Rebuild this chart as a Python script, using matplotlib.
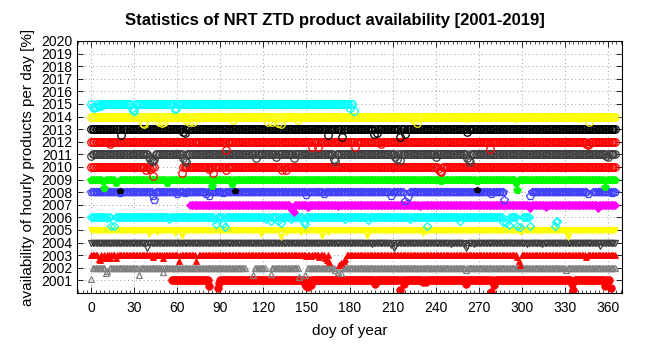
import numpy as np
import matplotlib
matplotlib.use("Agg")
import matplotlib.pyplot as plt
from matplotlib.ticker import MultipleLocator

plt.rcParams['font.family'] = ['Liberation Sans', 'DejaVu Sans']

# ---- data: coverage segments (doy ranges at full availability)
# ---- and individual dips (doy, plotted value)
seg_2015 = [(0, 183)]
dips_2015 = [(1, 2014.8), (2, 2014.7), (3, 2014.75), (5, 2014.85), (7, 2014.85), (28, 2014.7),
             (29, 2014.5), (30, 2014.45), (58, 2014.6), (59, 2014.7), (180, 2014.7), (183, 2014.45)]

seg_2014 = [(0, 365)]
dips_2014 = [(36, 2013.5), (37, 2013.45), (47, 2013.6), (49, 2013.5), (51, 2013.55), (66, 2013.7),
             (68, 2013.55), (71, 2013.6), (99, 2013.7), (123, 2013.55), (126, 2013.6), (130, 2013.5),
             (132, 2013.45), (144, 2013.7), (225, 2013.75), (227, 2013.5), (262, 2013.85),
             (296, 2013.85), (340, 2013.85), (347, 2013.55)]

seg_2013 = [(0, 365)]
dips_2013 = [(21, 2012.55), (64, 2012.8), (65, 2012.7), (165, 2012.55), (175, 2012.4), (197, 2012.6),
             (199, 2012.7), (215, 2012.4), (219, 2012.6), (262, 2012.8)]

seg_2012 = [(0, 70), (72, 365)]
dips_2012 = [(13, 2011.85), (94, 2011.35), (154, 2011.55), (158, 2011.55), (184, 2011.6), (202, 2011.85),
             (278, 2011.45), (345, 2011.85), (346, 2011.75), (347, 2011.8)]

seg_2011 = [(0, 365)]
dips_2011 = [(0, 2010.85), (40, 2010.8), (41, 2010.65), (42, 2010.5), (43, 2010.45), (44, 2010.6),
             (64, 2010.7), (65, 2010.55), (66, 2010.4), (115, 2010.7), (129, 2010.8), (141, 2010.75),
             (169, 2010.6), (170, 2010.45), (212, 2010.8), (213, 2010.6), (215, 2010.55), (240, 2010.8),
             (262, 2010.7), (263, 2010.55), (264, 2010.4), (359, 2010.85), (360, 2010.8)]

seg_2010 = [(0, 44), (63, 365)]
dips_2010 = [(38, 2009.8), (41, 2009.85), (43, 2009.25), (63, 2009.5), (82, 2009.85), (85, 2009.55),
             (94, 2009.75), (133, 2009.8), (136, 2009.8), (242, 2009.85), (243, 2009.7), (244, 2009.6)]

seg_2009 = [(0, 17), (20, 365)]
dips_2009 = [(8, 2008.85), (9, 2008.3), (17, 2008.7), (53, 2008.7), (84, 2008.5), (98, 2008.65),
             (244, 2008.85), (269, 2008.9), (296, 2008.75), (297, 2008.2), (358, 2008.45)]
dark_days_2009 = [20, 100, 269]
dark_vals_2009 = [2008.12, 2008.12, 2008.15]

seg_2008 = [(0, 217), (221, 288), (306, 346), (350, 365)]
dips_2008 = [(20, 2007.95), (43, 2007.7), (44, 2007.4), (60, 2007.85), (65, 2007.9), (80, 2007.85),
             (82, 2007.7), (92, 2007.9), (150, 2007.8), (162, 2007.85), (209, 2007.7), (219, 2007.3),
             (221, 2007.65), (279, 2007.85), (288, 2007.4), (306, 2007.7), (346, 2007.85), (363, 2007.95)]

seg_2007 = [(69, 365)]
dips_2007 = [(139, 2006.85), (140, 2006.6), (141, 2006.4), (151, 2006.85), (172, 2006.9), (229, 2006.9),
             (306, 2006.75), (317, 2006.85), (353, 2006.75)]

seg_2006 = [(0, 13), (17, 286), (292, 296), (301, 305)]
dips_2006 = [(11, 2005.95), (14, 2005.3), (16, 2005.35), (54, 2005.9), (86, 2005.85), (87, 2005.45),
             (92, 2005.45), (93, 2005.25), (122, 2005.9), (125, 2005.75), (130, 2005.7), (132, 2005.55),
             (139, 2005.9), (148, 2005.65), (149, 2005.45), (177, 2005.9), (193, 2005.8), (222, 2005.9),
             (234, 2005.3), (257, 2005.75), (287, 2005.65), (289, 2005.55), (291, 2005.4), (297, 2005.3),
             (299, 2005.25), (306, 2005.3), (323, 2005.3), (324, 2005.6), (325, 2005.75)]

seg_2005 = [(0, 365)]
dips_2005 = [(30, 2004.9), (40, 2004.7), (46, 2004.85), (58, 2004.8), (63, 2004.5), (118, 2004.7),
             (132, 2004.45), (136, 2004.85), (146, 2004.85), (161, 2004.55), (165, 2004.85), (192, 2004.5),
             (231, 2004.8), (234, 2004.9), (299, 2004.85), (331, 2004.75), (332, 2004.45)]

seg_2004 = [(0, 365)]
dips_2004 = [(39, 2003.6), (196, 2003.9), (209, 2003.8), (211, 2003.6), (212, 2003.7), (251, 2003.9),
             (260, 2003.85), (261, 2003.6), (262, 2003.7), (267, 2003.9), (304, 2003.9), (314, 2003.85),
             (355, 2003.75)]

seg_2003 = [(0, 73), (75, 166), (177, 365)]
dips_2003 = [(5, 2002.7), (6, 2002.65), (8, 2002.8), (10, 2002.8), (13, 2002.75), (17, 2002.75),
             (43, 2002.85), (50, 2002.8), (61, 2002.55), (73, 2002.5), (150, 2002.9), (153, 2002.9),
             (159, 2002.85), (163, 2002.75), (164, 2002.6), (166, 2002.45), (173, 2002.2), (174, 2002.35),
             (176, 2002.55), (177, 2002.7), (297, 2002.85), (298, 2002.5), (299, 2002.25), (345, 2002.85)]

seg_2002 = [(1, 10), (13, 107), (114, 121), (126, 145), (151, 169), (175, 365)]
dips_2002 = [(0, 2001.1), (10, 2001.6), (11, 2001.75), (33, 2001.4), (50, 2001.65), (113, 2001.4),
             (125, 2001.5), (145, 2001.25), (149, 2001.4), (170, 2001.85), (172, 2001.65), (174, 2001.55),
             (261, 2001.85), (331, 2001.8)]

seg_2001 = [(56, 82), (90, 361)]
dips_2001 = [(82, 2000.55), (88, 2000.4), (89, 2000.8), (149, 2000.7), (150, 2000.55), (151, 2000.45),
             (153, 2000.6), (198, 2000.75), (215, 2000.2), (218, 2000.7), (231, 2000.85), (233, 2000.85),
             (261, 2000.75), (279, 2000.05), (281, 2000.6), (335, 2000.75), (336, 2000.2), (358, 2000.55),
             (362, 2000.4)]

year_labels = [str(y) for y in range(2001, 2021)]
x_ticks = list(range(0, 361, 30))

# styles: (color, marker, filled)
styles = {
    2001: ('#ff0000', 'o', True),
    2002: ('#808080', '^', False),
    2003: ('#ff0000', '^', True),
    2004: ('#404040', 'v', False),
    2005: ('#ffff00', 'v', True),
    2006: ('#00ffff', 'D', False),
    2007: ('#ff00ff', 'D', True),
    2008: ('#4040ff', 'p', False),
    2009: ('#00ff00', 'p', True),
    2010: ('#ff0000', 'o', False),
    2011: ('#404040', 'o', False),
    2012: ('#ff0000', 'o', False),
    2013: ('#000000', 'o', False),
    2014: ('#ffff00', 'o', False),
    2015: ('#00ffff', 'o', False),
}
series = {
    2001: (seg_2001, dips_2001), 2002: (seg_2002, dips_2002), 2003: (seg_2003, dips_2003),
    2004: (seg_2004, dips_2004), 2005: (seg_2005, dips_2005), 2006: (seg_2006, dips_2006),
    2007: (seg_2007, dips_2007), 2008: (seg_2008, dips_2008), 2009: (seg_2009, dips_2009),
    2010: (seg_2010, dips_2010), 2011: (seg_2011, dips_2011), 2012: (seg_2012, dips_2012),
    2013: (seg_2013, dips_2013), 2014: (seg_2014, dips_2014), 2015: (seg_2015, dips_2015),
}


def build(year, segs, dips):
    vals = {}
    for a, b in segs:
        for d in range(a, b + 1):
            vals[d] = float(year)
    for d, v in dips:
        vals[d] = v
    days = sorted(vals)
    return np.array(days), np.array([vals[d] for d in days])


fig = plt.figure(figsize=(6.47, 3.52), dpi=100)
ax = fig.add_axes([77 / 647, 59 / 352, 545 / 647, 252 / 352])

for year in range(2001, 2016):
    segs, dips = series[year]
    x, y = build(year, segs, dips)
    color, marker, filled = styles[year]
    ms = 5.4 if marker in ('o', 'p') else 5.0
    if marker == 'D':
        ms = 4.2
    if filled:
        ax.plot(x, y, linestyle='none', marker=marker, ms=ms, color=color, mec=color, mew=0.6)
    else:
        ax.plot(x, y, linestyle='none', marker=marker, ms=ms, mfc='none', mec=color, mew=0.9)

ax.plot(dark_days_2009, dark_vals_2009, linestyle='none', marker='p', ms=3.8, color='#000000')

ax.set_xlim(-10, 370)
ax.set_ylim(2000, 2020)
ax.set_xticks(x_ticks)
ax.set_xticklabels([str(t) for t in x_ticks])
ax.set_yticks(range(2001, 2021))
ax.set_yticklabels(year_labels)
ax.xaxis.set_minor_locator(MultipleLocator(3))
ax.tick_params(which='both', direction='in', top=True, right=True, labelsize=10, color='black')
ax.tick_params(which='major', length=4, width=0.6)
ax.tick_params(which='minor', length=2, width=0.5)
ax.tick_params(axis='x', which='major', pad=6)
ax.grid(True, which='major', linestyle=(0, (1, 3)), color='#a0a0a0', linewidth=0.7)
for s in ax.spines.values():
    s.set_linewidth(0.8)

ax.set_xlabel('doy of year', fontsize=11, labelpad=6)
ax.set_ylabel('availability of hourly products per day [%]', fontsize=11)
fig.text(335 / 647, 1 - 20 / 352, 'Statistics of NRT ZTD product availability [2001-2019]',
         ha='center', va='center', fontsize=12, fontweight='bold')

fig.savefig('out.png', dpi=100)
